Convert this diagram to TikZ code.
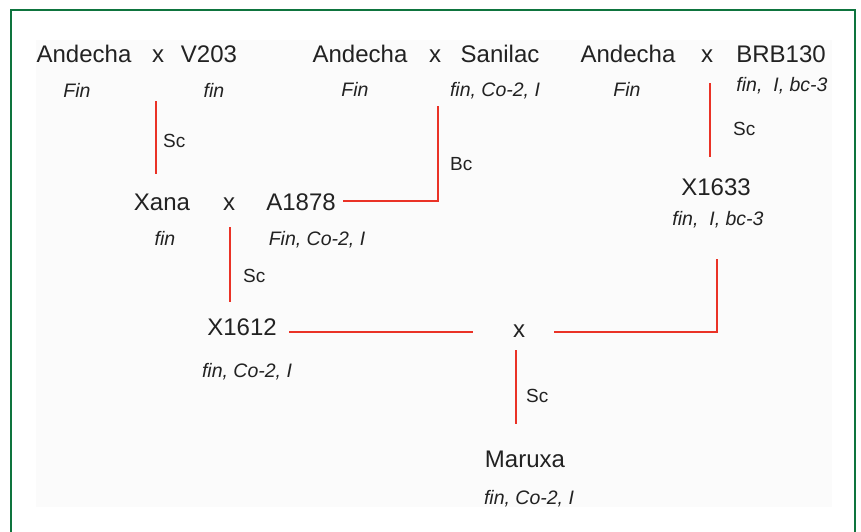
\documentclass[tikz,border=0pt]{standalone}
\usepackage{fontspec}
\setmainfont{Liberation Sans}
\definecolor{framegreen}{RGB}{14,116,62}
\definecolor{linkred}{RGB}{234,50,38}
\definecolor{inkgrey}{RGB}{34,34,34}
\begin{document}
\begin{tikzpicture}[x=1pt,y=-1pt,
  line/.style={font=\fontsize{24}{28}\selectfont, inner sep=0pt, anchor=base, text=inkgrey},
  trait/.style={font=\fontsize{19.5}{23}\selectfont\itshape, inner sep=0pt, anchor=base, text=inkgrey},
  method/.style={font=\fontsize{19}{22}\selectfont, inner sep=0pt, anchor=base west, text=inkgrey},
  link/.style={draw=linkred, line width=2.6pt}]
\useasboundingbox (0,0) rectangle (861,531);
% panel and frame
\fill[black!1.5] (36,40) rectangle (832,507);
\draw[framegreen, line width=2.6pt] (11,545) -- (11,10) -- (855,10) -- (855,545);

% first crosses
\node[line] (and1) at (84,62) {Andecha};
\node[line] (cx1) at (158,62) {x};
\node[line] (v203) at (209,62) {V203};
\node[trait] (and1t) at (77,97) {Fin};
\node[trait] (v203t) at (214,97) {fin};

\node[line] (and2) at (360,62) {Andecha};
\node[line] (cx2) at (435,62) {x};
\node[line] (sanilac) at (500,62) {Sanilac};
\node[trait] (and2t) at (355,96) {Fin};
\node[trait] (sanilact) at (495,96) {fin, Co-2, I};

\node[line] (and3) at (628,62) {Andecha};
\node[line] (cx3) at (707,62) {x};
\node[line] (brb) at (781,62) {BRB130};
\node[trait] (and3t) at (627,96) {Fin};
\node[trait] (brbt) at (782,91) {fin,\ \ I, bc-3};

% second generation
\node[line] (xana) at (162,210) {Xana};
\node[line] (cx4) at (229,210) {x};
\node[line] (a1878) at (301,210) {A1878};
\node[trait] (xanat) at (165,245) {fin};
\node[trait] (a1878t) at (317,245) {Fin, Co-2, I};

\node[line] (x1633) at (716,195) {X1633};
\node[trait] (x1633t) at (718,225) {fin,\ \ I, bc-3};

% third generation
\node[line] (x1612) at (242,335) {X1612};
\node[trait] (x1612t) at (247,377) {fin, Co-2, I};
\node[line] (cx5) at (519,337) {x};

% final line
\node[line] (maruxa) at (525,467) {Maruxa};
\node[trait] (maruxat) at (529,504) {fin, Co-2, I};

% selection methods
\node[method] (sc1) at (163,147) {Sc};
\node[method] (bc1) at (450,170) {Bc};
\node[method] (sc2) at (733,135) {Sc};
\node[method] (sc3) at (243,282) {Sc};
\node[method] (sc4) at (526,402) {Sc};

% connector end points
\coordinate (p1a) at (156,101);  \coordinate (p1b) at (156,174);
\coordinate (p2a) at (438,106);  \coordinate (p2b) at (438,201);  \coordinate (p2c) at (343,201);
\coordinate (p3a) at (710,83);   \coordinate (p3b) at (710,157);
\coordinate (p4a) at (230,227);  \coordinate (p4b) at (230,302);
\coordinate (p5a) at (289,332);  \coordinate (p5b) at (473,332);
\coordinate (p6a) at (554,332);  \coordinate (p6b) at (717,332);  \coordinate (p6c) at (717,259);
\coordinate (p7a) at (516,350);  \coordinate (p7b) at (516,424);

\draw[link] (p1a) -- (p1b);
\draw[link] (p2a) -- (p2b) -- (p2c);
\draw[link] (p3a) -- (p3b);
\draw[link] (p4a) -- (p4b);
\draw[link] (p5a) -- (p5b);
\draw[link] (p6a) -- (p6b) -- (p6c);
\draw[link] (p7a) -- (p7b);
\end{tikzpicture}
\end{document}
